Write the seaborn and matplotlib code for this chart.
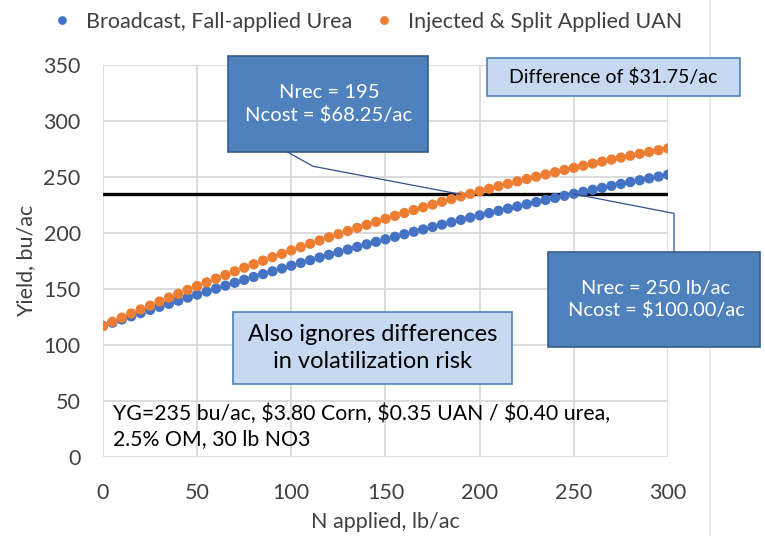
import pandas as pd
import matplotlib.pyplot as plt
import seaborn as sns
from matplotlib.patches import Rectangle
from matplotlib.lines import Line2D

sns.set_theme(style="white")
plt.rcParams["font.family"] = ["Lato", "DejaVu Sans"]

# N rate, lb/ac
n_applied = [0, 5, 10, 15, 20, 25, 30, 35, 40, 45, 50, 55, 60, 65, 70, 75, 80, 85, 90, 95,
             100, 105, 110, 115, 120, 125, 130, 135, 140, 145, 150, 155, 160, 165, 170, 175,
             180, 185, 190, 195, 200, 205, 210, 215, 220, 225, 230, 235, 240, 245, 250, 255,
             260, 265, 270, 275, 280, 285, 290, 295, 300]

yield_urea = [117.0, 119.9, 122.8, 125.6, 128.5, 131.3, 134.1, 136.8, 139.6, 142.3,
              145.0, 147.7, 150.3, 153.0, 155.6, 158.2, 160.7, 163.3, 165.8, 168.3,
              170.8, 173.3, 175.7, 178.1, 180.5, 182.9, 185.2, 187.6, 189.9, 192.1,
              194.4, 196.6, 198.9, 201.1, 203.2, 205.4, 207.5, 209.6, 211.7, 213.8,
              215.8, 217.8, 219.8, 221.8, 223.7, 225.7, 227.6, 229.5, 231.3, 233.2,
              235.0, 236.8, 238.6, 240.3, 242.1, 243.8, 245.5, 247.1, 248.8, 250.4, 252.0]

yield_uan = [117.0, 120.7, 124.4, 128.1, 131.7, 135.2, 138.8, 142.3, 145.7, 149.2,
             152.6, 155.9, 159.2, 162.5, 165.8, 169.0, 172.1, 175.3, 178.4, 181.4,
             184.5, 187.4, 190.4, 193.3, 196.2, 199.0, 201.8, 204.6, 207.3, 210.0,
             212.7, 215.3, 217.9, 220.5, 223.0, 225.4, 227.9, 230.3, 232.7, 235.0,
             237.3, 239.5, 241.8, 243.9, 246.1, 248.2, 250.3, 252.3, 254.3, 256.3,
             258.2, 260.1, 262.0, 263.8, 265.6, 267.3, 269.0, 270.7, 272.3, 273.9, 275.5]

yield_goal = 235
series_names = ["Broadcast, Fall-applied Urea", "Injected & Split Applied UAN"]
palette = {series_names[0]: "#4472c4", series_names[1]: "#ed7d31"}

df = pd.DataFrame({
    "N": n_applied * 2,
    "Yield": yield_urea + yield_uan,
    "Method": [series_names[0]] * len(n_applied) + [series_names[1]] * len(n_applied),
})

fig = plt.figure(figsize=(7.65, 5.36), dpi=100)
ax = fig.add_axes([0.1346, 0.1474, 0.7386, 0.7313])

ax.plot([0, 300], [yield_goal, yield_goal], color="black", linewidth=2.4, zorder=2)

sns.scatterplot(data=df, x="N", y="Yield", hue="Method", palette=palette,
                s=55, linewidth=0, ax=ax, zorder=3)

ax.set_xlim(0, 300)
ax.set_ylim(0, 350)
ax.set_xticks(range(0, 301, 50))
ax.set_yticks(range(0, 351, 50))
ax.grid(True, color="#d9d9d9", linewidth=1.3)
ax.set_axisbelow(True)
for s in ax.spines.values():
    s.set_visible(False)
ax.tick_params(axis="both", labelsize=15.5, colors="#404040", length=0)
ax.tick_params(axis="x", pad=19)
ax.tick_params(axis="y", pad=16)
ax.set_xlabel("N applied, lb/ac", fontsize=15.5, color="#404040", labelpad=6)
ax.set_ylabel("Yield, bu/ac", fontsize=15.5, color="#404040", labelpad=5)

sns.move_legend(ax, "center", bbox_to_anchor=(0.4726, 0.959), bbox_transform=fig.transFigure,
                ncol=2, frameon=False, title=None, fontsize=15.5, handletextpad=0.1,
                columnspacing=0.5, markerscale=0.85)
for t in ax.get_legend().get_texts():
    t.set_color("#404040")

# connector lines
ax.add_line(Line2D([95.3, 111.5, 190.0], [274.8, 259.6, 234.5], color="#2f528f",
                   linewidth=0.9, clip_on=False, zorder=4))
ax.add_line(Line2D([249.6, 303.2, 303.2], [235.0, 217.5, 180.8], color="#2f528f",
                   linewidth=0.9, clip_on=False, zorder=4))

W, H = 765, 536


def box(x0, y0, x1, y1, face, edge, text, tcolor, fs, cx=None, cy=None):
    fig.add_artist(Rectangle((x0 / W, 1 - y1 / H), (x1 - x0) / W, (y1 - y0) / H,
                             transform=fig.transFigure, facecolor=face, edgecolor=edge,
                             linewidth=1.2, zorder=5))
    cx = (x0 + x1) / 2 if cx is None else cx
    cy = (y0 + y1) / 2 if cy is None else cy
    fig.text(cx / W, 1 - cy / H, text, ha="center", va="center", color=tcolor,
             fontsize=fs, zorder=6, linespacing=1.3)


box(228, 56, 428, 152, "#4f81bd", "#385d8a", "Nrec = 195\nNcost = $68.25/ac", "white", 14.6, cx=329)
box(487, 58, 740, 96, "#c6d9f1", "#4f81bd", "Difference of $31.75/ac", "black", 14, cx=613)
box(548, 252, 760, 347, "#4f81bd", "#385d8a", "Nrec = 250 lb/ac\nNcost = $100.00/ac", "white", 14.4, cx=656)
box(233, 312, 512, 384, "#c6d9f1", "#4f81bd", "Also ignores differences\nin volatilization risk", "black", 17)

fig.text(113 / W, 1 - 426 / H, "YG=235 bu/ac, $3.80 Corn, $0.35 UAN / $0.40 urea,\n2.5% OM, 30 lb NO3",
         ha="left", va="center", fontsize=15.3, color="black", linespacing=1.3, zorder=6)

# slide edge
fig.add_artist(Line2D([710 / W, 710 / W], [0, 1], transform=fig.transFigure,
                      color="#e6e6e6", linewidth=1.2, zorder=0.5))

plt.savefig("out.png", dpi=100)
